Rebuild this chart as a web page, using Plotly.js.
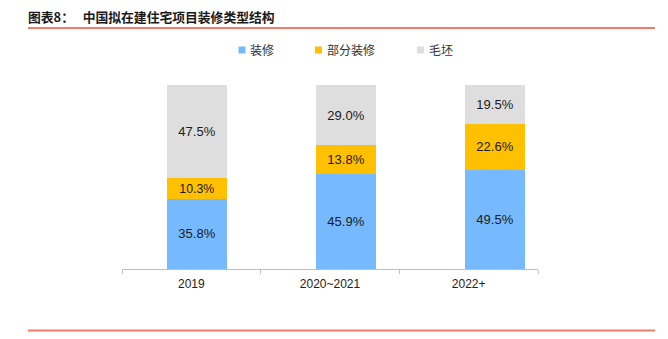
<!DOCTYPE html>
<html>
<head>
<meta charset="utf-8">
<script src="https://cdn.plot.ly/plotly-3.0.1.min.js"></script>
<style>html,body{margin:0;padding:0;background:#fff;}#chart{width:668px;height:339px;}</style>
</head>
<body>
<div id="chart"></div>
<script>
const categories = ['2019', '2020~2021', '2022+'];
const seriesNames = ['装修', '部分装修', '毛坯'];
const fullFinish = [35.8, 45.9, 49.5];
const partFinish = [10.3, 13.8, 22.6];
const rough = [47.5, 29.0, 19.5];
const colors = ['#76BAFD', '#FFC000', '#DEDEDE'];

const L = 122, R = 538, T = 85, B = 269;
const pw = R - L, ph = B - T;
const px = x => (x - L) / pw;
const py = y => (B - y) / ph;

// bars sit on an overlaid axis (the source chart's bars are spaced a bit wider than its category ticks)
const barStep = 149, firstBar = 197;
const x2r0 = -(firstBar - L) / barStep;
const x2range = [x2r0, x2r0 + pw / barStep];

const allValues = [fullFinish, partFinish, rough];
const traces = allValues.map((vals, i) => ({
  type: 'bar',
  name: seriesNames[i],
  x: categories,
  y: vals,
  xaxis: 'x2',
  text: vals.map(v => v.toFixed(1) + '%'),
  textposition: 'inside',
  insidetextanchor: 'middle',
  textangle: 0,
  textfont: {family: 'Liberation Sans, Arial, sans-serif', size: 13, color: '#1a1a1a'},
  marker: {color: colors[i], line: {width: 0}},
  width: 60 / barStep,
  showlegend: false,
  hoverinfo: 'none'
}));
// category axis carrier (invisible)
traces.push({
  type: 'scatter', mode: 'none', x: categories, y: [null, null, null],
  xaxis: 'x', yaxis: 'y', showlegend: false, hoverinfo: 'none'
});

// custom legend matching the source (small squares, tight text)
const legendSquares = [238.5, 315, 417];
const shapes = [
  {type: 'line', xref: 'paper', yref: 'paper', x0: px(28), x1: px(655), y0: py(28), y1: py(28), line: {color: '#F27B6C', width: 2}},
  {type: 'line', xref: 'paper', yref: 'paper', x0: px(28), x1: px(655), y0: py(330.5), y1: py(330.5), line: {color: '#F27B6C', width: 2}}
];
const annotations = [];
seriesNames.forEach((n, i) => {
  const sx = legendSquares[i];
  shapes.push({type: 'rect', xref: 'paper', yref: 'paper', x0: px(sx), x1: px(sx + 7), y0: py(53.5), y1: py(46.5), fillcolor: colors[i], line: {width: 0}});
  annotations.push({text: n, xref: 'paper', yref: 'paper', x: px(sx + 9.5), y: py(50), xanchor: 'left', yanchor: 'middle', showarrow: false,
    font: {family: 'Noto Sans CJK SC, sans-serif', size: 12, color: '#333'}});
});

const layout = {
  width: 668, height: 339,
  margin: {l: L, r: 668 - R, t: T, b: 339 - B},
  paper_bgcolor: '#fff', plot_bgcolor: '#fff',
  barmode: 'stack',
  barnorm: 'percent',
  showlegend: false,
  title: {
    text: '<b>图表8：   中国拟在建住宅项目装修类型结构</b>',
    font: {family: 'Noto Sans CJK SC, sans-serif', size: 12.8, color: '#1a1a1a'},
    xref: 'container', yref: 'container',
    x: 28 / 668, xanchor: 'left',
    y: 1 - 18 / 339, yanchor: 'middle'
  },
  xaxis: {
    type: 'category',
    categoryarray: categories, categoryorder: 'array',
    range: [-0.5, 2.5],
    showline: true, linecolor: '#BFBFBF', linewidth: 1,
    ticks: 'outside', tickson: 'boundaries', ticklen: 4, tickcolor: '#BFBFBF',
    ticklabelstandoff: 4,
    tickfont: {family: 'Liberation Sans, Arial, sans-serif', size: 12, color: '#222'},
    showgrid: false, zeroline: false, fixedrange: true
  },
  xaxis2: {
    type: 'category',
    categoryarray: categories, categoryorder: 'array',
    overlaying: 'x', range: x2range, visible: false,
    showgrid: false, zeroline: false, fixedrange: true
  },
  yaxis: {
    range: [0, 100], visible: false, showgrid: false, zeroline: false, fixedrange: true
  },
  shapes: shapes,
  annotations: annotations
};

Plotly.newPlot('chart', traces, layout, {displayModeBar: false, staticPlot: true});
</script>
</body>
</html>
